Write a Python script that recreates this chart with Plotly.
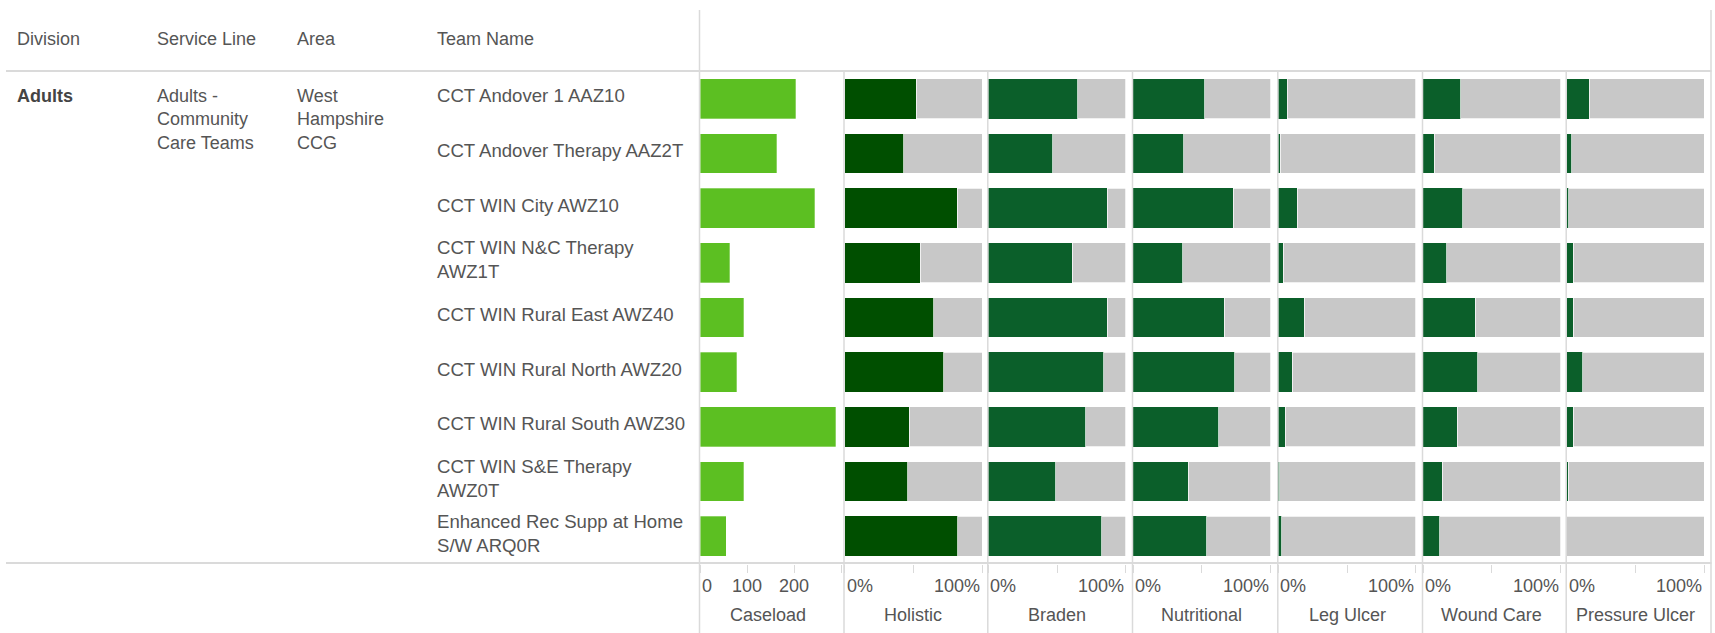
import plotly.graph_objects as go

# ---------------- data ----------------
header_labels = ["Division", "Service Line", "Area", "Team Name"]
division = "Adults"
service_line = ["Adults -", "Community", "Care Teams"]
area = ["West", "Hampshire", "CCG"]

teams = [
    "CCT Andover 1 AAZ10",
    "CCT Andover Therapy AAZ2T",
    "CCT WIN City AWZ10",
    "CCT WIN N&C Therapy AWZ1T",
    "CCT WIN Rural East AWZ40",
    "CCT WIN Rural North AWZ20",
    "CCT WIN Rural South AWZ30",
    "CCT WIN S&E Therapy AWZ0T",
    "Enhanced Rec Supp at Home S/W ARQ0R",
]
team_lines = [
    ["CCT Andover 1 AAZ10"],
    ["CCT Andover Therapy AAZ2T"],
    ["CCT WIN City AWZ10"],
    ["CCT WIN N&C Therapy", "AWZ1T"],
    ["CCT WIN Rural East AWZ40"],
    ["CCT WIN Rural North AWZ20"],
    ["CCT WIN Rural South AWZ30"],
    ["CCT WIN S&E Therapy", "AWZ0T"],
    ["Enhanced Rec Supp at Home", "S/W ARQ0R"],
]

caseload = [204, 163, 244, 63, 93, 78, 289, 93, 56]

measures = ["Holistic", "Braden", "Nutritional", "Leg Ulcer", "Wound Care", "Pressure Ulcer"]
holistic = [52, 43, 82, 55, 65, 72, 47, 46, 82.5]
braden = [65, 47, 86.5, 61, 86.5, 84, 71, 49, 82.5]
nutritional = [52, 37, 73, 36, 66.5, 74, 62.5, 40, 53.5]
leg_ulcer = [6.4, 1.4, 13.6, 3.6, 18.8, 10, 5.2, 1.0, 2.4]
wound_care = [27.5, 8, 29, 17.4, 38, 39.7, 25, 14, 12]
pressure_ulcer = [16.5, 3.6, 1.4, 4.8, 4.8, 11.6, 4.8, 1.2, 0]
measure_values = [holistic, braden, nutritional, leg_ulcer, wound_care, pressure_ulcer]

caseload_tickvals = [0, 100, 200, 300]
caseload_ticktext = ["0", "100", "200", ""]
pct_tickvals = [0, 50, 100]
pct_ticktext = ["0%", "", "100%"]

# ---------------- styles ----------------
W, H = 1715, 633
FONT = "Liberation Sans, Arial, sans-serif"
TXT = "#555555"
LINE = "#DADADA"
C_CASE = "#5CBF22"
C_HOL = "#004F00"
C_MEAS = "#0B5F2A"
C_REST = "#C8C8C8"

def px(x):
    return x / W

def py(y):
    return 1 - y / H

panel_edges = [700, 844.5, 988.3, 1133, 1278.3, 1423, 1566.7, 1711.5]
plot_top, plot_bot = 71.5, 563.5

fig = go.Figure()
no_line = dict(width=0)
rest_line = dict(color="rgba(255,255,255,0.9)", width=0.8)

fig.add_trace(go.Bar(x=caseload, y=teams, orientation="h",
                     marker=dict(color=C_CASE, line=dict(color="rgba(255,255,255,0.5)", width=0.6)),
                     xaxis="x", yaxis="y", hoverinfo="x+y"))
for i, (name, vals) in enumerate(zip(measures, measure_values)):
    ax = "x%d" % (i + 2)
    col = C_HOL if i == 0 else C_MEAS
    fig.add_trace(go.Bar(x=vals, y=teams, orientation="h", marker=dict(color=col, line=no_line),
                         xaxis=ax, yaxis="y", name=name))
    fig.add_trace(go.Bar(x=[100 - v for v in vals], y=teams, orientation="h",
                         marker=dict(color=C_REST, line=rest_line),
                         xaxis=ax, yaxis="y", name=name + " rest"))

layout = dict(
    width=W, height=H, margin=dict(l=0, r=0, t=0, b=0, pad=0),
    paper_bgcolor="white", plot_bgcolor="white",
    showlegend=False, barmode="stack", bargap=0.274,
    font=dict(family=FONT, size=18, color=TXT),
    yaxis=dict(type="category", categoryarray=teams, range=[len(teams) - 0.5, -0.5],
               domain=[py(plot_bot), py(plot_top)], showticklabels=False, showgrid=False,
               zeroline=False, showline=False, fixedrange=True),
)
axis_common = dict(showgrid=False, zeroline=False, showline=False, ticks="outside", ticklen=8,
                   tickwidth=1, tickcolor=LINE, showticklabels=False, anchor="y", fixedrange=True)
cw = panel_edges[1] - panel_edges[0]
layout["xaxis"] = dict(domain=[px(panel_edges[0]), px(panel_edges[1])], range=[0, cw / 0.4705],
                       tickvals=caseload_tickvals, **axis_common)
for i in range(len(measures)):
    a, b = panel_edges[i + 1], panel_edges[i + 2]
    layout["xaxis%d" % (i + 2)] = dict(domain=[px(a), px(b)], range=[0, (b - a) / 1.375],
                                      tickvals=pct_tickvals, **axis_common)
fig.update_layout(**layout)

ann = []
# header
header_x = [14.5, 154.5, 294.5, 434.5]
for t, x in zip(header_labels, header_x):
    ann.append(dict(text=t, x=px(x), y=py(39), xref="paper", yref="paper",
                    xanchor="left", yanchor="middle", showarrow=False))
# division / service line / area
ann.append(dict(text="<b>%s</b>" % division, x=px(header_x[0]), y=teams[0], xref="paper", yref="y",
                xanchor="left", yanchor="middle", yshift=3, showarrow=False, font=dict(color="#444444")))
for lines, x in [(service_line, header_x[1]), (area, header_x[2])]:
    ann.append(dict(text="<br>".join(lines), x=px(x), y=py(84), xref="paper", yref="paper",
                    xanchor="left", yanchor="top", align="left", showarrow=False))
# team names
for t, lines in zip(teams, team_lines):
    ann.append(dict(text="<br>".join(lines), x=px(header_x[3]), y=t, xref="paper", yref="y",
                    xanchor="left", yanchor="middle", align="left", yshift=3, showarrow=False,
                    font=dict(size=18.6)))
# tick labels
for v, t in zip(caseload_tickvals, caseload_ticktext):
    if t:
        ann.append(dict(text=t, x=v, y=py(586), xref="x", yref="paper",
                        xanchor="left" if v == 0 else "center", yanchor="middle", showarrow=False))
ann.append(dict(text="Caseload", x=0.47, y=py(615), xref="x domain", yref="paper",
                xanchor="center", yanchor="middle", showarrow=False))
for i, name in enumerate(measures):
    ax = "x%d" % (i + 2)
    for v, t in zip(pct_tickvals, pct_ticktext):
        if t:
            ann.append(dict(text=t, x=v, y=py(586), xref=ax, yref="paper",
                            xanchor="left" if v == 0 else "right", yanchor="middle", showarrow=False))
    ann.append(dict(text=name, x=50, y=py(615), xref=ax, yref="paper",
                    xanchor="center", yanchor="middle", showarrow=False))
fig.update_layout(annotations=ann)

# divider lines
shapes = []
shapes.append(dict(type="line", xref="paper", yref="paper", x0=px(6), x1=px(1711.5),
                   y0=py(plot_top - 0.5), y1=py(plot_top - 0.5), line=dict(color=LINE, width=2)))
shapes.append(dict(type="line", xref="paper", yref="paper", x0=px(6), x1=px(1711.5),
                   y0=py(plot_bot - 0.5), y1=py(plot_bot - 0.5), line=dict(color=LINE, width=2)))
for j, e in enumerate(panel_edges):
    top = 10 if j in (0, len(panel_edges) - 1) else plot_top - 1
    shapes.append(dict(type="line", xref="paper", yref="paper", x0=px(e - 0.5), x1=px(e - 0.5),
                       y0=py(top), y1=py(H), line=dict(color=LINE, width=1.5)))
fig.update_layout(shapes=shapes)

fig.write_html("out.html")
